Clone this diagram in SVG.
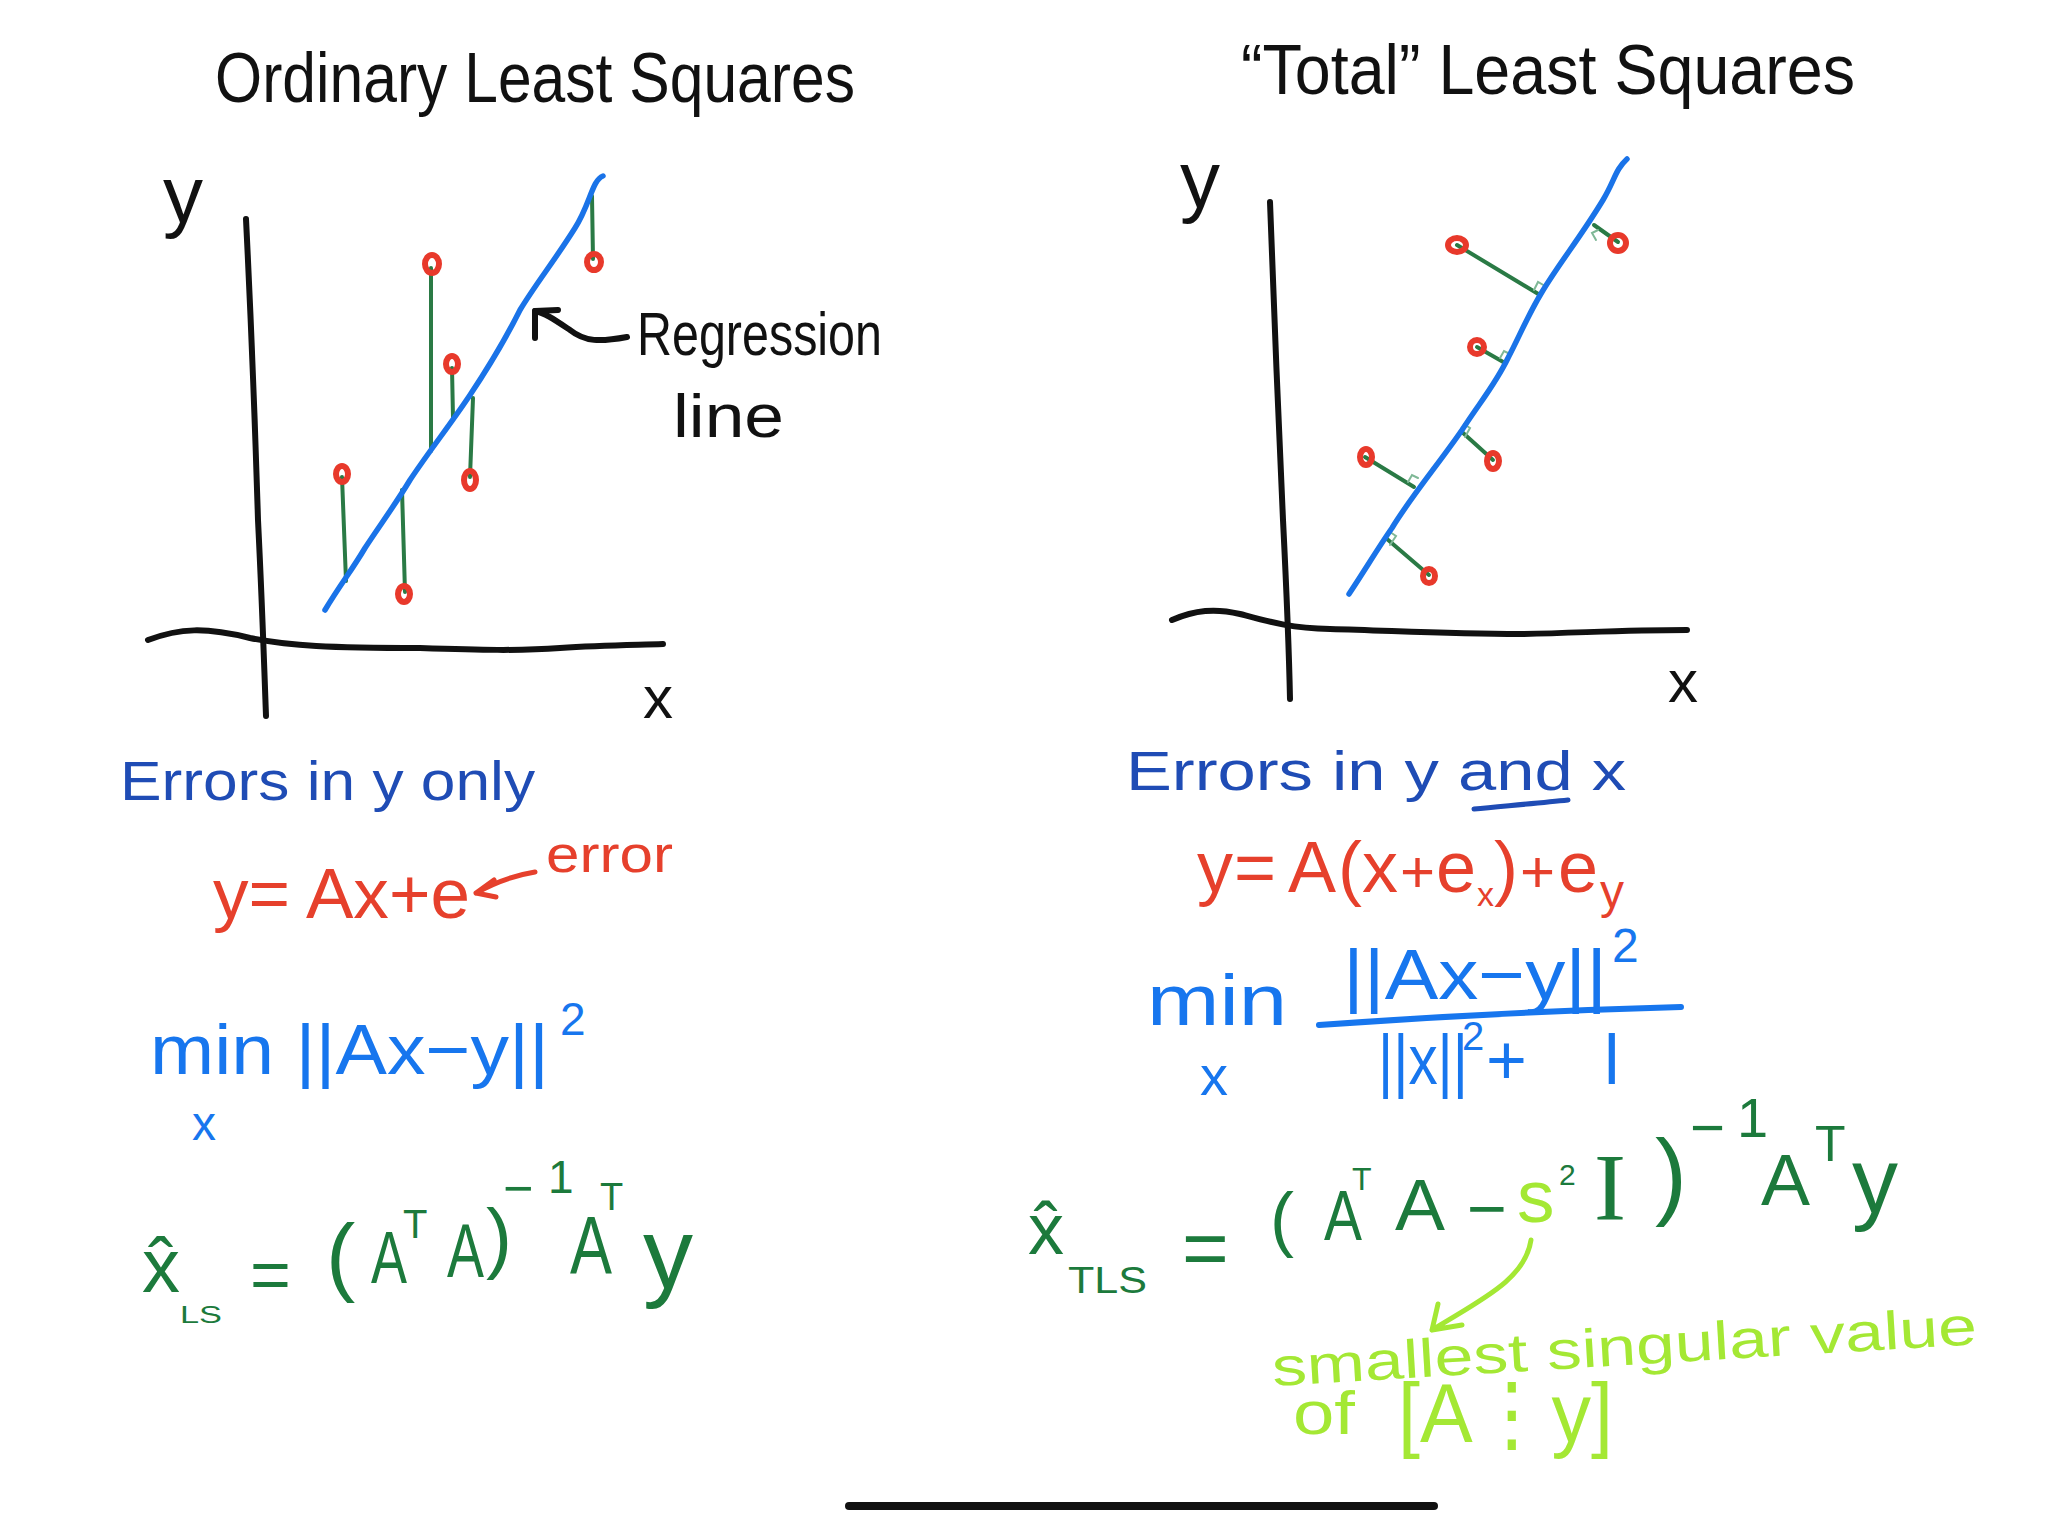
<svg xmlns="http://www.w3.org/2000/svg" width="2048" height="1524" viewBox="0 0 2048 1524">
<style>
text{font-family:"Liberation Sans","DejaVu Sans",sans-serif}
.ink{fill:none;stroke:#111;stroke-width:6;stroke-linecap:round;stroke-linejoin:round}
.reg{fill:none;stroke:#1a73e8;stroke-width:5.5;stroke-linecap:round;stroke-linejoin:round}
.res{fill:none;stroke:#2a7a45;stroke-width:4;stroke-linecap:round}
.ra{fill:none;stroke:#7fb896;stroke-width:2;stroke-linecap:round}
.pt{fill:none;stroke:#e8392b;stroke-width:6}
.blk{fill:#111}
.dblue{fill:#1f4cb5}
.blue{fill:#1776ee}
.red{fill:#e6402c}
.green{fill:#1c7a3c}
.lime{fill:#a4e834}
.serif{font-family:"Liberation Serif","DejaVu Serif",serif}
</style>
<rect width="2048" height="1524" fill="#fff"/>

<g id="left-panel">
  <text class="blk" x="215" y="102" font-size="70" textLength="640" lengthAdjust="spacingAndGlyphs">Ordinary Least Squares</text>
  <g id="left-axes">
    <path class="ink" d="M246 219 C250 300 255 420 258 520 C262 600 264 660 266 716"/>
    <path class="ink" d="M148 640 C180 628 205 627 250 638 C290 646 330 648 420 648 C480 650 520 651 560 648 C600 645 630 645 663 644"/>
    <text class="blk" x="163" y="222" font-size="80">y</text>
    <text class="blk" x="643" y="718" font-size="60">x</text>
  </g>
  <g id="left-residuals">
    <path class="res" d="M342 477 L346 581"/>
    <path class="res" d="M402 490 L405 592"/>
    <path class="res" d="M431 268 L431 451"/>
    <path class="res" d="M452 368 L453 418"/>
    <path class="res" d="M473 398 L470 477"/>
    <path class="res" d="M592 196 L593 259"/>
  </g>
  <path id="left-regression-line" class="reg" d="M325 610 C340 585 352 570 365 548 C380 525 395 505 410 480 C430 450 450 425 470 395 C490 365 505 340 520 310 C535 285 555 260 575 228 C590 205 592 180 603 176"/>
  <g id="left-points">
    <ellipse class="pt" cx="342" cy="474" rx="6" ry="8"/>
    <ellipse class="pt" cx="404" cy="594" rx="6" ry="8"/>
    <ellipse class="pt" cx="432" cy="264" rx="7" ry="9"/>
    <ellipse class="pt" cx="452" cy="364" rx="6" ry="8"/>
    <ellipse class="pt" cx="470" cy="480" rx="6" ry="9"/>
    <ellipse class="pt" cx="594" cy="262" rx="7" ry="8"/>
  </g>
  <g id="regression-label">
    <path class="ink" d="M627 337 C600 342 585 342 570 330 C555 320 545 313 535 311"/>
    <path class="ink" d="M558 310 L535 311 L535 338"/>
    <text class="blk" x="637" y="355" font-size="62" textLength="245" lengthAdjust="spacingAndGlyphs">Regression</text>
    <text class="blk" x="673" y="437" font-size="62" textLength="111" lengthAdjust="spacingAndGlyphs">line</text>
  </g>
  <text id="errors-y" class="dblue" x="120" y="800" font-size="56" textLength="415" lengthAdjust="spacingAndGlyphs">Errors in y only</text>
  <g id="ls-model">
    <text class="red" x="213" y="918" font-size="70" textLength="257" lengthAdjust="spacingAndGlyphs">y= Ax+e</text>
    <text class="red" x="546" y="872" font-size="52" textLength="127" lengthAdjust="spacingAndGlyphs">error</text>
    <path d="M535 872 C510 876 492 884 476 893 M476 893 L494 880 M476 893 L496 897" fill="none" stroke="#e6402c" stroke-width="5" stroke-linecap="round"/>
  </g>
  <g id="ls-objective" class="blue">
    <text x="150" y="1074" font-size="70" textLength="399" lengthAdjust="spacingAndGlyphs">min ||Ax−y||</text>
    <text x="560" y="1035" font-size="46">2</text>
    <text x="192" y="1140" font-size="48">x</text>
  </g>
  <g id="ls-solution" class="green">
    <text x="142" y="1292" font-size="76">x̂</text>
    <text x="180" y="1323" font-size="24" textLength="42" lengthAdjust="spacingAndGlyphs">LS</text>
    <text x="250" y="1299" font-size="70">=</text>
    <text x="326" y="1285" font-size="88">(</text>
    <text x="371" y="1283" font-size="74" textLength="36" lengthAdjust="spacingAndGlyphs">A</text>
    <text x="403" y="1238" font-size="40">T</text>
    <text x="447" y="1277" font-size="76" textLength="37" lengthAdjust="spacingAndGlyphs">A</text>
    <text x="486" y="1264" font-size="78">)</text>
    <text x="503" y="1206" font-size="52">−</text>
    <text x="548" y="1193" font-size="46">1</text>
    <text x="570" y="1273" font-size="82" textLength="42" lengthAdjust="spacingAndGlyphs">A</text>
    <text x="600" y="1210" font-size="38">T</text>
    <text x="643" y="1288" font-size="100">y</text>
  </g>
</g>

<g id="right-panel">
  <text class="blk" x="1241" y="94" font-size="70" textLength="614" lengthAdjust="spacingAndGlyphs">“Total” Least Squares</text>
  <g id="right-axes">
    <path class="ink" d="M1270 202 C1274 300 1278 420 1283 520 C1287 600 1289 650 1290 699"/>
    <path class="ink" d="M1172 620 C1195 610 1215 608 1240 614 C1270 622 1290 628 1330 629 C1400 631 1450 634 1520 634 C1580 633 1620 630 1687 630"/>
    <text class="blk" x="1180" y="207" font-size="80">y</text>
    <text class="blk" x="1668" y="702" font-size="60">x</text>
  </g>
  <g id="right-residuals">
    <path class="res" d="M1457 245 L1540 295"/>
    <path class="res" d="M1618 242 L1594 225"/>
    <path class="res" d="M1477 347 L1505 363"/>
    <path class="res" d="M1365 457 L1414 487"/>
    <path class="res" d="M1493 460 L1462 432"/>
    <path class="res" d="M1429 575 L1387 539"/>
    <path class="ra" d="M1534 290 L1538 282 L1545 286"/>
    <path class="ra" d="M1598 230 L1592 233 L1596 240"/>
    <path class="ra" d="M1500 358 L1504 351 L1510 354"/>
    <path class="ra" d="M1408 482 L1412 475 L1418 478"/>
    <path class="ra" d="M1465 437 L1470 428 L1464 424"/>
    <path class="ra" d="M1390 545 L1396 536 L1390 532"/>
  </g>
  <path id="right-regression-line" class="reg" d="M1349 594 C1365 570 1378 548 1392 528 C1410 498 1440 462 1462 430 C1480 402 1495 385 1508 358 C1520 335 1528 315 1542 292 C1560 262 1580 238 1603 200 C1615 180 1615 170 1627 159"/>
  <g id="right-points">
    <ellipse class="pt" cx="1457" cy="245" rx="9" ry="7"/>
    <ellipse class="pt" cx="1618" cy="243" rx="8" ry="8"/>
    <ellipse class="pt" cx="1477" cy="347" rx="7" ry="7"/>
    <ellipse class="pt" cx="1366" cy="457" rx="6" ry="8"/>
    <ellipse class="pt" cx="1493" cy="461" rx="6" ry="8"/>
    <ellipse class="pt" cx="1429" cy="576" rx="6" ry="7"/>
  </g>
  <g id="errors-yx">
    <text class="dblue" x="1126" y="790" font-size="56" textLength="500" lengthAdjust="spacingAndGlyphs">Errors in y and x</text>
    <path d="M1474 809 C1505 806 1540 803 1568 800" fill="none" stroke="#1f4cb5" stroke-width="5" stroke-linecap="round"/>
  </g>
  <text id="tls-model" class="red" y="892" font-size="72"><tspan x="1197">y</tspan><tspan x="1234">=</tspan><tspan x="1288">A</tspan><tspan x="1338">(</tspan><tspan x="1362">x</tspan><tspan x="1400" font-size="60">+</tspan><tspan x="1436">e</tspan><tspan x="1477" y="906" font-size="34">x</tspan><tspan x="1494" y="892">)</tspan><tspan x="1520" font-size="60">+</tspan><tspan x="1558">e</tspan><tspan x="1600" y="908" font-size="48">y</tspan></text>
  <g id="tls-objective" class="blue">
    <text x="1147" y="1025" font-size="72" textLength="140" lengthAdjust="spacingAndGlyphs">min</text>
    <text x="1200" y="1095" font-size="56">x</text>
    <text x="1343" y="999" font-size="70" textLength="264" lengthAdjust="spacingAndGlyphs">||Ax−y||</text>
    <text x="1612" y="962" font-size="48">2</text>
    <path d="M1319 1025 Q1500 1012 1681 1007" fill="none" stroke="#1776ee" stroke-width="6" stroke-linecap="round"/>
    <text x="1378" y="1084" font-size="70" textLength="90" lengthAdjust="spacingAndGlyphs">||x||</text>
    <text x="1462" y="1050" font-size="40">2</text>
    <text x="1486" y="1084" font-size="70">+</text>
    <text x="1604" y="1084" font-size="70">l</text>
  </g>
  <g id="tls-solution" class="green">
    <text x="1028" y="1254" font-size="72">x̂</text>
    <text x="1068" y="1293" font-size="36" textLength="79" lengthAdjust="spacingAndGlyphs">TLS</text>
    <text x="1182" y="1275" font-size="80">=</text>
    <text x="1270" y="1243" font-size="72">(</text>
    <text x="1324" y="1240" font-size="70" textLength="38" lengthAdjust="spacingAndGlyphs">A</text>
    <text x="1352" y="1190" font-size="32">T</text>
    <text x="1395" y="1230" font-size="72" textLength="50" lengthAdjust="spacingAndGlyphs">A</text>
    <text x="1467" y="1231" font-size="66" textLength="40" lengthAdjust="spacingAndGlyphs">−</text>
    <text class="lime" x="1517" y="1222" font-size="75">s</text>
    <text x="1559" y="1185" font-size="30">2</text>
    <text class="serif" x="1594" y="1220" font-size="96">I</text>
    <text x="1655" y="1207" font-size="96">)</text>
    <text x="1690" y="1148" font-size="60">−</text>
    <text x="1737" y="1137" font-size="56">1</text>
    <text x="1761" y="1205" font-size="72" textLength="49" lengthAdjust="spacingAndGlyphs">A</text>
    <text x="1815" y="1161" font-size="50">T</text>
    <text x="1852" y="1213" font-size="92">y</text>
  </g>
  <g id="sigma-note">
    <path d="M1531 1240 C1525 1280 1480 1300 1432 1330 M1432 1330 L1438 1304 M1432 1330 L1462 1325" fill="none" stroke="#a4e834" stroke-width="5" stroke-linecap="round" stroke-linejoin="round"/>
    <text class="lime" x="1273" y="1386" font-size="54" textLength="706" lengthAdjust="spacingAndGlyphs" transform="rotate(-3.4 1273 1386)">smallest singular value</text>
    <text class="lime" x="1293" y="1434" font-size="62" textLength="62" lengthAdjust="spacingAndGlyphs">of</text>
    <text class="lime" x="1398" y="1442" font-size="84" textLength="215" lengthAdjust="spacingAndGlyphs">[A⋮y]</text>
  </g>
</g>

<path id="home-bar" d="M849 1506 L1434 1506" stroke="#111" stroke-width="8" stroke-linecap="round"/>
</svg>
